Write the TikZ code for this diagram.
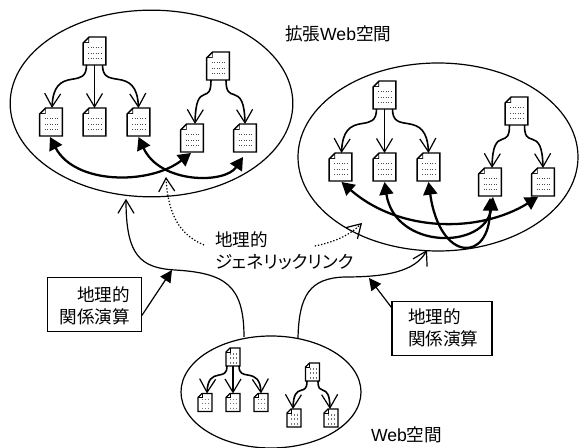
\documentclass[tikz,border=0pt]{standalone}
\usepackage{fontspec}
\setmainfont{Liberation Sans}
\newfontfamily\jp{Noto Sans CJK JP}[RawFeature=+palt]
\usetikzlibrary{arrows.meta,shapes.geometric,calc}
\tikzset{
  x=.75pt,y=-.75pt,
  every node/.style={inner sep=0pt,outer sep=0pt},
  space/.style={draw,ellipse,line width=.9pt},
  docbigbox/.style={minimum width=17pt,minimum height=21pt},
  docsmallbox/.style={minimum width=10.5pt,minimum height=13.5pt},
  docline/.style={draw,fill=white,line width=1.1pt,line join=miter},
  docfold/.style={line width=.6pt},
  dotsbig/.style={line width=.75pt,black!70,dash pattern=on .9pt off .95pt},
  dotssmall/.style={line width=.8pt,black!55,dash pattern=on .9pt off 1.35pt},
  barb/.style={-{Straight Barb[length=10pt,width=12pt,line width=.9pt]}},
  linkline/.style={barb,line width=1.2pt},
  geoline/.style={barb,line width=.9pt},
  hyper/.style={{Triangle[length=9.5pt,width=10.5pt]}-{Triangle[length=9.5pt,width=10.5pt]},line width=1.7pt},
  genline/.style={barb,line width=.9pt,dash pattern=on 1pt off 1.4pt},
  opbox/.style={draw,line width=.9pt,minimum width=71pt,minimum height=41pt},
  oparrow/.style={-{Triangle[length=9pt,width=9pt]},line width=.9pt},
  lbl/.style={font=\fontsize{13.2pt}{16.5pt}\selectfont},
}
\newcommand\bigdoc[2]{%
  \node[docbigbox] (#1) at #2 {};
  \draw[docline] ($(#1.north west)+(6,0)$) -- (#1.north east) -- (#1.south east) -- (#1.south west) -- ($(#1.north west)+(0,6)$) -- cycle;
  \fill[black] ($(#1.north west)+(6,0)$) -- ($(#1.north west)+(6,6)$) -- ($(#1.north west)+(0,6)$) -- cycle;
  \fill[white] ($(#1.north west)+(5.2,2)$) -- ($(#1.north west)+(5.2,5.2)$) -- ($(#1.north west)+(2,5.2)$) -- cycle;
  \foreach \r in {11,17,22} \draw[dotsbig] ($(#1.north west)+(5,\r)$) -- +(13,0);
}
\newcommand\smalldoc[2]{%
  \node[docsmallbox] (#1) at #2 {};
  \draw[docline,line width=.9pt] ($(#1.north west)+(4,0)$) -- (#1.north east) -- (#1.south east) -- (#1.south west) -- ($(#1.north west)+(0,4)$) -- cycle;
  \draw[docfold] ($(#1.north west)+(4,0)$) -- ($(#1.north west)+(4,4)$) -- ($(#1.north west)+(0,4)$);
  \foreach \r in {6,10,15} \draw[dotssmall] ($(#1.north west)+(4,\r)$) -- +(7.5,0);
}
\newcommand\doclink[4]{%
  \draw[linkline] let \p1=($(#1.south)+(#2,0)$),\p2=($(#3.north)+(#4,0)$) in
    (\p1) .. controls (\x1,{\y1+.28*(\y2-\y1)}) and ({\x1+.18*(\x2-\x1)},{\y1+.30*(\y2-\y1)})
    .. ({\x1+.41*(\x2-\x1)},{\y1+.33*(\y2-\y1)})
    .. controls ({\x1+.76*(\x2-\x1)},{\y1+.37*(\y2-\y1)}) and ({\x1+.97*(\x2-\x1)},{\y1+.49*(\y2-\y1)})
    .. (\p2);}
\begin{document}
\begin{tikzpicture}
\useasboundingbox (0,0) rectangle (579,448);
% spaces
\node[space,minimum width=212pt,minimum height=140pt] (e1) at (151.5,103.5) {};
\node[space,minimum width=210pt,minimum height=141pt] (e2) at (438,157) {};
\node[space,minimum width=135pt,minimum height=84pt] (e3) at (271,392) {};
% documents of space 1
\bigdoc{a0}{(94.5,51)}
\bigdoc{a1}{(51,122)}
\bigdoc{a2}{(94.5,122)}
\bigdoc{a3}{(138.5,122)}
\bigdoc{a4}{(218,66)}
\bigdoc{a5}{(192,138)}
\bigdoc{a6}{(245,138)}
% documents of space 2
\bigdoc{b0}{(384.5,95)}
\bigdoc{b1}{(340.5,167)}
\bigdoc{b2}{(384.5,167)}
\bigdoc{b3}{(428.5,167)}
\bigdoc{b4}{(516.5,111)}
\bigdoc{b5}{(490,182)}
\bigdoc{b6}{(543,182)}
% documents of space 3
\smalldoc{c0}{(233,357)}
\smalldoc{c1}{(205,402.5)}
\smalldoc{c2}{(233,402.5)}
\smalldoc{c3}{(261,402.5)}
\smalldoc{c4}{(312.5,372)}
\smalldoc{c5}{(294,418)}
\smalldoc{c6}{(331,418)}
% links
\doclink{a0}{-8}{a1}{1}
\draw[linkline] (a0) -- (a2);
\doclink{a0}{8}{a3}{0}
\doclink{a4}{-7}{a5}{3}
\doclink{a4}{8}{a6}{0}
\doclink{b0}{-8}{b1}{1}
\draw[linkline] (b0) -- (b2);
\doclink{b0}{8}{b3}{0}
\doclink{b4}{-7}{b5}{2}
\doclink{b4}{8}{b6}{0}
\doclink{c0}{-6}{c1}{2}
\draw[linkline] (c0) -- (c2);
\doclink{c0}{6}{c3}{0}
\doclink{c4}{-5.5}{c5}{-1}
\doclink{c4}{5.5}{c6}{-1}
% hyper links
\draw[hyper] ($(a1.south)+(-1,1)$) .. controls (75,185) and (150,185) .. ($(a5.south)+(-1,1)$);
\draw[hyper] ($(a3.south)+(0,1)$) .. controls (160,184) and (225,184) .. ($(a6.south)+(-2,5)$);
\draw[hyper] ($(b1.south)+(1,1)$) .. controls (400,233) and (480,233) .. ($(b6.south)+(-5,1)$);
\draw[hyper] ($(b2.south)+(0,1)$) .. controls (395,250) and (485,250) .. ($(b5.south)+(3,1)$);
\draw[hyper] ($(b3.south)+(0,1)$) .. controls (440,263) and (490,263) .. ($(b5.south)+(0,2)$);
% texts and boxes
\node[lbl,anchor=west] (t1) at (285,34) {{\jp 拡張}Web{\jp 空間}};
\node[lbl,anchor=west] (t2) at (371,435) {Web{\jp 空間}};
\node[opbox] (op1) at (94.5,304.5) {};
\node[lbl,anchor=east] (op1a) at (130,295) {\jp 地理的};
\node[lbl,anchor=east] (op1b) at (130,317) {\jp 関係演算};
\node[opbox,minimum width=75pt] (op2) at (442,328.5) {};
\node[lbl,anchor=west] (op2a) at (408,317) {\jp 地理的};
\node[lbl,anchor=west] (op2b) at (408,339) {\jp 関係演算};
\node[lbl,anchor=west] (g1) at (215,240) {\jp 地理的};
\node[lbl,anchor=west] (g2) at (215,262) {\jp ジェネリックリンク};
% geographic operations
\draw[geoline] ($(e3.north)+(-27,1)$) .. controls (244,285) and (225,273) .. (175,270)
  .. controls (140,268) and (126,255) .. ($(e1.south)+(-25.5,2)$);
\draw[geoline] ($(e3.north)+(27,2)$) .. controls (299,295) and (310,278) .. (345,277)
  .. controls (385,277) and (415,272) .. ($(e2.south)+(-11,-1)$);
\coordinate (p1) at (172,270);
\coordinate (p2) at (369,278);
\draw[oparrow] ($(op1.east)+(0,11)$) -- (p1);
\draw[oparrow] ($(op2.north west)+(0,7)$) -- (p2);
% generic links
\coordinate (q1) at (166,177);
\coordinate (q2) at (362,223);
\draw[genline] ($(g1.west)+(-11,5)$) .. controls (180,235) and (168,215) .. (q1);
\draw[genline] ($(g1.east)+(47,6)$) .. controls (335,242) and (350,235) .. (q2);
\end{tikzpicture}
\end{document}
